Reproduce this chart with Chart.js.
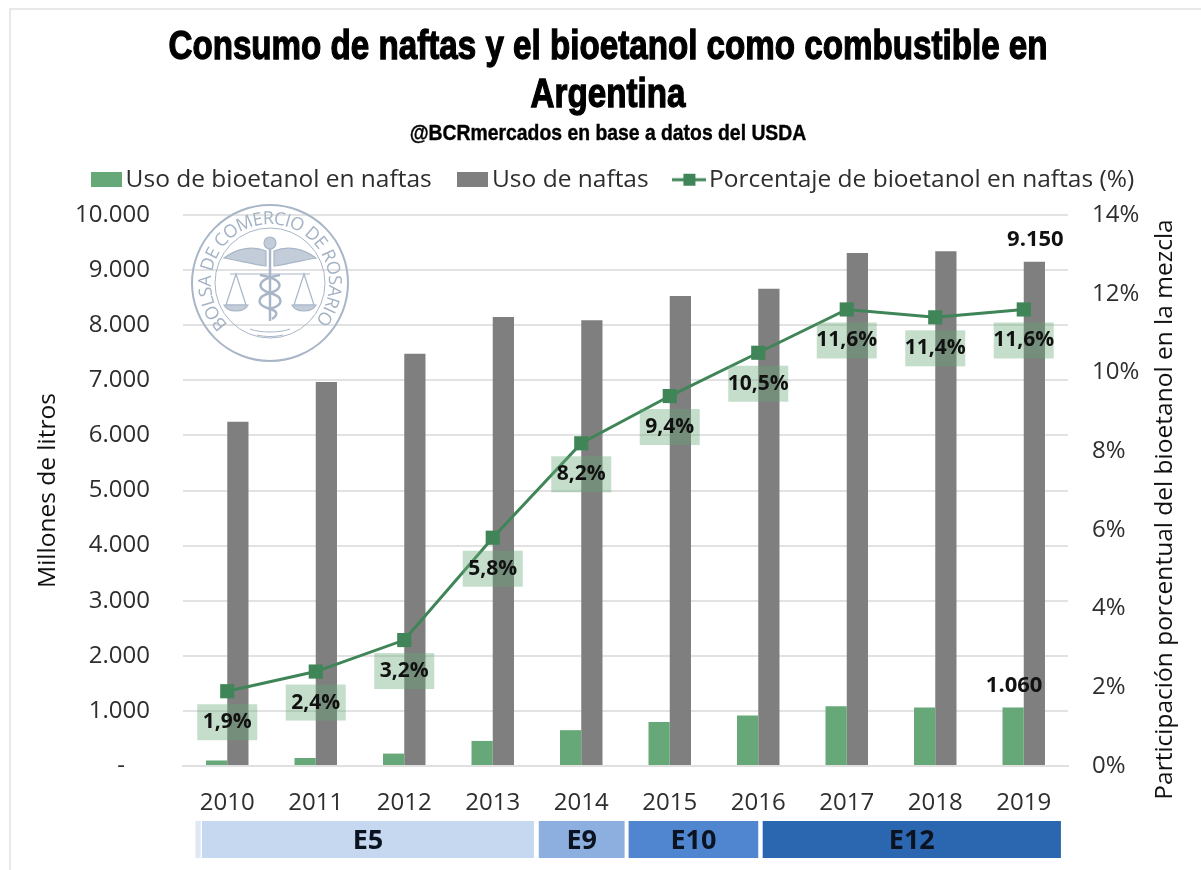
<!DOCTYPE html>
<html>
<head>
<meta charset="utf-8">
<title>Consumo de naftas y bioetanol</title>
<script src="https://cdn.jsdelivr.net/npm/chart.js@4"></script>
<style>
    html, body { margin: 0; padding: 0; background: #fff; }
    #wrap { position: relative; width: 1201px; height: 870px; overflow: hidden; }
    #frame { position: absolute; left: 9px; top: 8px; right: 0; bottom: 0; border-left: 2px solid #e8e8e8; border-top: 2px solid #e8e8e8; }
    canvas { position: absolute; left: 0; top: 0; }
    #logo { position: absolute; left: 185px; top: 198px; pointer-events: none; }
    .head { position: absolute; left: 0; width: 1216px; margin: 0; text-align: center; color: #000; white-space: nowrap;
            font-family: 'Liberation Sans'; font-weight: bold; transform-origin: 608px 0; }
    #titulo { top: 21px; font-size: 41px; line-height: 48px; transform: scaleX(0.809); -webkit-text-stroke: 1.3px #000; }
    #sub { top: 119px; font-size: 22px; line-height: 28px; transform: scaleX(0.88); -webkit-text-stroke: 0.4px #000; }
</style>
</head>
<body>
<div id="wrap">
    <div id="frame"></div>
    <canvas id="chart" width="1201" height="870"></canvas>
    <h1 class="head" id="titulo">Consumo de naftas y el bioetanol como combustible en<br>Argentina</h1>
    <div class="head" id="sub">@BCRmercados en base a datos del USDA</div>
    <svg id="logo" width="170" height="170" viewBox="-85 -85 170 170" fill="none" stroke="#a8b6c7" stroke-width="1.2">
        <defs><path id="ring" d="M -42 41.5 A 59 59 0 1 1 42 41.5"></path></defs>
        <circle r="78" stroke-width="2"></circle>
        <circle r="55" stroke-width="1"></circle>
        <text font-family="Open Sans" font-size="18" fill="#a3b2c4" stroke="none"><textPath href="#ring" textLength="272">BOLSA DE COMERCIO DE ROSARIO</textPath></text>
        <!-- alas y baston -->
        <path d="M -4 -32 C -18 -38 -34 -34 -46 -25 C -34 -23 -18 -19 -4 -17 Z" fill="#c3cdd9"></path>
        <path d="M 4 -32 C 18 -38 34 -34 46 -25 C 34 -23 18 -19 4 -17 Z" fill="#c3cdd9"></path>
        <circle cy="-40" r="6" fill="#c3cdd9"></circle>
        <path d="M 0 -34 V 38" stroke-width="2.5"></path>
        <path d="M -10 -8 C 14 -4 14 6 0 10 C -14 14 -14 22 0 26 C 8 28 8 32 2 36" stroke-width="2.5"></path>
        <path d="M 10 -8 C -14 -4 -14 6 0 10 C 14 14 14 22 0 26" stroke-width="2.5"></path>
        <!-- balanza -->
        <path d="M -40 -9 H 40"></path>
        <path d="M -34 -9 L -44 22 H -24 Z M 34 -9 L 24 22 H 44 Z"></path>
        <path d="M -46 22 C -42 30 -26 30 -22 22 Z M 22 22 C 26 30 42 30 46 22 Z" fill="#c3cdd9"></path>
        <path d="M -20 46 C -10 50 10 50 20 46 M -13 52 C -5 54 5 54 13 52" stroke-width="1"></path>
    </svg>
</div>
<script>
// Datos
const years = ['2010', '2011', '2012', '2013', '2014', '2015', '2016', '2017', '2018', '2019'];
const bioetanol = [100, 145, 225, 455, 650, 800, 915, 1085, 1060, 1060];
const naftas = [6250, 6970, 7480, 8150, 8090, 8530, 8660, 9310, 9340, 9150];
const porcentaje = [1.9, 2.4, 3.2, 5.8, 8.2, 9.4, 10.5, 11.6, 11.4, 11.6];

// Mezclas obligatorias, desde/hasta en unidades de categoria
const bandLabels = ['', 'E5', 'E9', 'E10', 'E12'];
const bandFrom = [-0.36, -0.285, 3.52, 4.535, 6.05];
const bandTo = [-0.30, 3.465, 4.49, 6.0, 9.42];
const bandColors = ['#dfe9f6', '#c5d8f0', '#8cafe0', '#4f86cf', '#2b67b0'];

const FONT = "'Open Sans'";
const TEXT = '#2e2e2e';
const GREEN = '#66a877';
const GREY = '#7f7f7f';
const LINE = '#3f8558';
const RIGHT_TITLE = 'Participación porcentual del bioetanol en la mezcla';

function fmtMiles(v) {
    return String(v).replace(/\B(?=(\d{3})+$)/g, '.');
}

// muestras de la leyenda
function barSample(color) {
    const c = document.createElement('canvas');
    c.width = 31;
    c.height = 15;
    const g = c.getContext('2d');
    g.fillStyle = color;
    g.fillRect(0, 0, 31, 15);
    return c;
}
function lineSample() {
    const c = document.createElement('canvas');
    c.width = 34;
    c.height = 14;
    const g = c.getContext('2d');
    g.fillStyle = LINE;
    g.fillRect(0, 5.5, 34, 3);
    g.fillRect(11, 1, 12, 12);
    return c;
}

// Separa la leyenda del area del grafico
const legendFit = {
    id: 'legendFit',
    beforeLayout(chart) {
        const legend = chart.legend;
        if (legend._grown) return;
        const fit = legend.fit;
        legend.fit = function() {
            fit.call(this);
            this.height += 13;
        };
        legend._grown = true;
    }
};

// Etiquetas sobre la linea y sobre la ultima barra
const dataLabels = {
    id: 'dataLabels',
    afterDatasetsDraw(chart) {
        const ctx = chart.ctx;
        ctx.save();
        ctx.textAlign = 'center';
        ctx.textBaseline = 'middle';
        chart.getDatasetMeta(2).data.forEach((pt, i) => {
            const cy = pt.y + 31;
            ctx.fillStyle = 'rgba(102,168,119,0.38)';
            ctx.fillRect(pt.x - 30, cy - 18, 60, 36);
            ctx.fillStyle = '#111';
            ctx.font = "bold 21px " + FONT;
            ctx.fillText(porcentaje[i].toFixed(1).replace('.', ',') + '%', pt.x, cy);
        });
        const last = years.length - 1;
        ctx.font = "bold 22px " + FONT;
        const b0 = chart.getDatasetMeta(0).data[last];
        const b1 = chart.getDatasetMeta(1).data[last];
        ctx.fillText(fmtMiles(bioetanol[last]), b0.x + 1, b0.y - 22);
        ctx.fillText(fmtMiles(naftas[last]), b1.x + 1, b1.y - 22);
        ctx.restore();
    }
};

// Franjas E5 / E9 / E10 / E12 bajo el eje y titulo del eje derecho (se lee hacia arriba)
const bands = {
    id: 'bands',
    afterDraw(chart) {
        const ctx = chart.ctx;
        const x = chart.scales.x;
        const area = chart.chartArea;
        const base = area.bottom;
        ctx.save();
        ctx.textAlign = 'center';
        ctx.textBaseline = 'middle';
        ctx.font = "bold 27px " + FONT;
        bandLabels.forEach((label, i) => {
            const x0 = x.getPixelForValue(bandFrom[i]);
            const x1 = x.getPixelForValue(bandTo[i]);
            ctx.fillStyle = bandColors[i];
            ctx.fillRect(x0, base + 55, x1 - x0, 37);
            ctx.fillStyle = '#0b1320';
            ctx.fillText(label, (x0 + x1) / 2, base + 75);
        });
        ctx.translate(area.right + 97, (area.top + area.bottom) / 2 + 19);
        ctx.rotate(-Math.PI / 2);
        ctx.font = "24.5px " + FONT;
        ctx.fillStyle = '#111';
        ctx.fillText(RIGHT_TITLE, 0, 0);
        ctx.restore();
    }
};

new Chart(document.getElementById('chart'), {
    type: 'bar',
    data: {
        labels: years,
        datasets: [
            { label: 'Uso de bioetanol en naftas', data: bioetanol, backgroundColor: GREEN, order: 2,
              barPercentage: 1, categoryPercentage: 0.48 },
            { label: 'Uso de naftas', data: naftas, backgroundColor: GREY, order: 2,
              barPercentage: 1, categoryPercentage: 0.48 },
            { label: 'Porcentaje de bioetanol en naftas (%)', type: 'line', data: porcentaje, yAxisID: 'y1', order: 0,
              borderColor: LINE, backgroundColor: LINE, borderWidth: 3, pointStyle: 'rect', pointRadius: 10, pointBorderWidth: 0, pointHoverRadius: 10, tension: 0 }
        ]
    },
    options: {
        responsive: false,
        animation: false,
        layout: { padding: { left: 33, right: 1, top: 134, bottom: 0 } },
        plugins: {
            legend: {
                position: 'top',
                labels: {
                    color: TEXT,
                    font: { family: FONT, size: 24.5 },
                    usePointStyle: true,
                    pointStyleWidth: 14.5,
                    padding: 33.5,
                    generateLabels(chart) {
                        return chart.data.datasets.map((d, i) => ({
                            text: d.label,
                            fontColor: TEXT,
                            fillStyle: d.backgroundColor,
                            strokeStyle: d.backgroundColor,
                            lineWidth: 0,
                            datasetIndex: i,
                            pointStyle: d.type === 'line' ? lineSample() : barSample(d.backgroundColor)
                        }));
                    }
                }
            },
            tooltip: { enabled: false }
        },
        scales: {
            x: {
                afterFit(s) { s.height = 104; },
                grid: { display: false },
                border: { color: '#e0e0e0', width: 2 },
                ticks: { color: TEXT, font: { family: FONT, size: 24 }, padding: 15, maxRotation: 0 }
            },
            y: {
                min: 0,
                max: 10000,
                afterFit(s) { s.width = 150; },
                grid: { color: '#e2e2e2', lineWidth: 2, drawTicks: false },
                border: { display: false },
                ticks: {
                    stepSize: 1000,
                    color: TEXT,
                    font: { family: FONT, size: 24 },
                    padding: 33,
                    callback: v => v === 0 ? '-    ' : fmtMiles(v)
                },
                title: { display: true, text: 'Millones de litros', color: '#111', font: { family: FONT, size: 24.5 }, padding: 0 }
            },
            y1: {
                position: 'right',
                min: 0,
                max: 14,
                afterFit(s) { s.width = 132; },
                grid: { display: false, drawTicks: false },
                border: { display: false },
                ticks: {
                    stepSize: 2,
                    color: TEXT,
                    font: { family: FONT, size: 24 },
                    padding: 24,
                    callback: v => v + '%'
                }
            }
        }
    },
    plugins: [legendFit, dataLabels, bands]
});
</script>
</body>
</html>
